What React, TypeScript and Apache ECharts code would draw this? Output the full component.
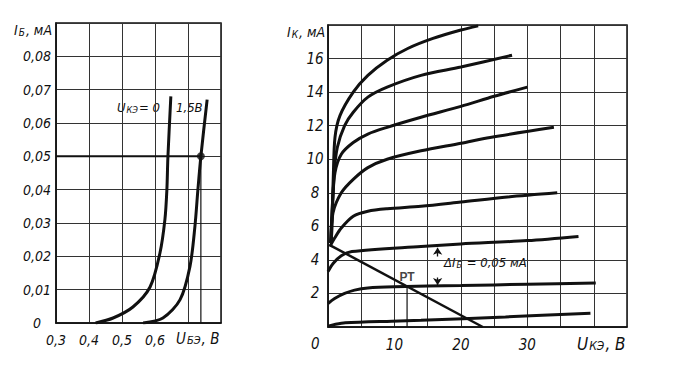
import React, { useEffect, useRef } from "react";
import * as echarts from "echarts";

// ---------- Input characteristics (left) ----------
const inU0_x = [0.42, 0.473, 0.533, 0.585, 0.615, 0.63, 0.636, 0.639, 0.648];
const inU0_y = [0, 0.0015, 0.0048, 0.0108, 0.021, 0.031, 0.04, 0.0495, 0.068];
const inU15_x = [0.564, 0.624, 0.676, 0.706, 0.721, 0.73, 0.739, 0.758];
const inU15_y = [0, 0.0015, 0.007, 0.017, 0.029, 0.04, 0.05, 0.067];
const inPoint = [0.739, 0.05];
const inXTicks = [0.3, 0.4, 0.5, 0.6];

// ---------- Output characteristics (right) ----------
const c0_x = [0, 1, 2.6, 9.6, 14, 26.7, 39.5];
const c0_y = [0.05, 0.15, 0.25, 0.35, 0.4, 0.6, 0.82];
const c1_x = [0, 1, 2.5, 4, 6, 10, 20, 30, 40.3];
const c1_y = [1.4, 1.7, 2.0, 2.2, 2.33, 2.4, 2.47, 2.55, 2.62];
const c2_x = [0, 0.8, 2, 3.6, 14, 20, 30, 37.7];
const c2_y = [3.3, 3.8, 4.25, 4.5, 4.8, 4.95, 5.15, 5.4];
const c3_x = [0.3, 1, 2, 3.8, 6, 8.9, 14, 20, 27, 34.5];
const c3_y = [4.8, 5.3, 5.9, 6.6, 6.9, 7.05, 7.2, 7.45, 7.75, 8.0];
const c4_x = [0.4, 0.75, 2, 3.8, 6, 8.9, 14, 20, 24.4, 34];
const c4_y = [5.0, 6.8, 8.0, 8.8, 9.5, 10.0, 10.5, 10.95, 11.3, 11.9];
const c5_x = [0.4, 0.7, 1.05, 2, 3.8, 6, 8.9, 14, 20, 25, 30];
const c5_y = [5.0, 7.5, 9.2, 10.3, 11.0, 11.5, 11.9, 12.5, 13.15, 13.75, 14.3];
const c6_x = [0.5, 0.9, 1.4, 2.5, 3.8, 6, 8.9, 14, 20, 27.7];
const c6_y = [5.0, 9.0, 10.7, 12.0, 12.8, 13.7, 14.3, 15.0, 15.5, 16.2];
const c7_x = [0.5, 0.8, 1.05, 1.8, 3.8, 6, 8.9, 12, 15.8, 20, 22.6];
const c7_y = [5.0, 9.0, 11.3, 12.6, 14.0, 15.0, 15.9, 16.6, 17.2, 17.7, 17.95];
const loadLine_x = [0.2, 23.3];
const loadLine_y = [4.9, 0];
const opPoint = [11.9, 2.4];
const deltaArrowU = 16.5;
const deltaArrowTop = [4.2, 4.72];
const deltaArrowBottom = [2.95, 2.5];
const outXTickLabels = [10, 20, 30];
const outYTickLabels = [2, 4, 6, 8, 10, 12, 14, 16];

const zip = (xs: number[], ys: number[]) => xs.map((x, i) => [x, ys[i]]);

const FONT = "'Liberation Sans Narrow', 'DejaVu Sans Condensed', 'DejaVu Sans', sans-serif";
const INK = "#111";

function curve(xs: number[], ys: number[], gi: number, w = 3) {
  return {
    type: "line",
    xAxisIndex: gi,
    yAxisIndex: gi,
    data: zip(xs, ys),
    smooth: 0.3,
    showSymbol: false,
    symbol: "none",
    lineStyle: { color: INK, width: w },
    silent: true,
    z: 5,
  };
}

function richLabel(main: string, sub: string, tail: string, size: number) {
  return {
    text: `{a|${main}}{s|${sub}}{a|${tail}}`,
    rich: {
      a: { fontFamily: FONT, fontStyle: "italic", fontSize: size, fill: INK, lineHeight: size + 4, verticalAlign: "bottom" },
      s: { fontFamily: FONT, fontStyle: "italic", fontSize: Math.round(size * 0.7), fill: INK, lineHeight: size + 4, verticalAlign: "bottom", padding: [0, 1, 0, 1] },
    },
  };
}

export default function App() {
  const ref = useRef<HTMLDivElement>(null);
  useEffect(() => {
    if (!ref.current) return;
    const chart = echarts.init(ref.current, undefined, { renderer: "svg" });
    const axisCommon = {
      type: "value",
      axisLine: { show: true, lineStyle: { color: INK, width: 1.5 } },
      axisTick: { show: false },
      splitLine: { show: true, lineStyle: { color: "#333", width: 1 } },
    };
    const option: any = {
      animation: false,
      backgroundColor: "#fff",
      grid: [
        { left: 56, top: 23, width: 165, height: 300, show: true, borderColor: INK, borderWidth: 1.5 },
        { left: 328, top: 25, width: 299, height: 302, show: true, borderColor: INK, borderWidth: 1.5 },
      ],
      xAxis: [
        {
          ...axisCommon,
          gridIndex: 0,
          min: 0.3,
          max: 0.8,
          interval: 0.1,
          axisLabel: {
            margin: 10,
            fontFamily: FONT,
            fontStyle: "italic",
            fontSize: 14,
            color: INK,
            formatter: (v: number) => {
              const r = Math.round(v * 10) / 10;
              return inXTicks.includes(r) ? r.toFixed(1).replace(".", ",") : "";
            },
          },
        },
        {
          ...axisCommon,
          gridIndex: 1,
          min: 0,
          max: 45,
          interval: 5,
          axisLabel: {
            margin: 10,
            fontFamily: FONT,
            fontStyle: "italic",
            fontSize: 15,
            color: INK,
            formatter: (v: number) => (outXTickLabels.includes(Math.round(v)) ? String(Math.round(v)) : ""),
          },
        },
      ],
      yAxis: [
        {
          ...axisCommon,
          gridIndex: 0,
          min: 0,
          max: 0.09,
          interval: 0.01,
          axisLabel: {
            margin: 19,
            align: "center",
            fontFamily: FONT,
            fontStyle: "italic",
            fontSize: 14,
            color: INK,
            formatter: (v: number) => {
              const r = Math.round(v * 100) / 100;
              if (r === 0) return "0";
              if (r > 0.085) return "";
              return r.toFixed(2).replace(".", ",");
            },
          },
        },
        {
          ...axisCommon,
          gridIndex: 1,
          min: 0,
          max: 18,
          interval: 2,
          axisLabel: {
            margin: 13,
            align: "center",
            fontFamily: FONT,
            fontStyle: "italic",
            fontSize: 15,
            color: INK,
            formatter: (v: number) => (outYTickLabels.includes(Math.round(v)) ? String(Math.round(v)) : ""),
          },
        },
      ],
      series: [
        curve(inU0_x, inU0_y, 0),
        curve(inU15_x, inU15_y, 0),
        {
          type: "line",
          xAxisIndex: 0,
          yAxisIndex: 0,
          data: [[0.3, inPoint[1]], inPoint],
          showSymbol: false,
          symbol: "none",
          lineStyle: { color: INK, width: 2 },
        },
        {
          type: "line",
          xAxisIndex: 0,
          yAxisIndex: 0,
          data: [inPoint, [inPoint[0], 0]],
          showSymbol: false,
          symbol: "none",
          lineStyle: { color: INK, width: 1.2 },
        },
        {
          type: "scatter",
          xAxisIndex: 0,
          yAxisIndex: 0,
          data: [inPoint],
          symbolSize: 8,
          itemStyle: { color: INK },
          z: 6,
        },
        curve(c0_x, c0_y, 1),
        curve(c1_x, c1_y, 1),
        curve(c2_x, c2_y, 1),
        curve(c3_x, c3_y, 1),
        curve(c4_x, c4_y, 1),
        curve(c5_x, c5_y, 1),
        curve(c6_x, c6_y, 1),
        curve(c7_x, c7_y, 1),
        {
          type: "line",
          xAxisIndex: 1,
          yAxisIndex: 1,
          data: zip(loadLine_x, loadLine_y),
          showSymbol: false,
          symbol: "none",
          lineStyle: { color: INK, width: 2.5 },
          z: 6,
        },
        {
          type: "line",
          xAxisIndex: 1,
          yAxisIndex: 1,
          data: [opPoint, [opPoint[0], 0]],
          showSymbol: false,
          symbol: "none",
          lineStyle: { color: INK, width: 1.2 },
        },
        {
          type: "scatter",
          xAxisIndex: 1,
          yAxisIndex: 1,
          data: [opPoint],
          symbolSize: 1,
          itemStyle: { color: "transparent" },
          label: {
            show: true,
            position: "top",
            distance: 3,
            formatter: "РТ",
            fontFamily: "'Liberation Sans', Arial, sans-serif",
            fontWeight: "bold",
            fontSize: 12,
            color: INK,
          },
        },
        {
          type: "lines",
          coordinateSystem: "cartesian2d",
          xAxisIndex: 1,
          yAxisIndex: 1,
          symbol: ["none", "arrow"],
          symbolSize: 7,
          lineStyle: { color: INK, width: 1.3, opacity: 1 },
          data: [
            { coords: [[deltaArrowU, deltaArrowTop[0]], [deltaArrowU, deltaArrowTop[1]]] },
            { coords: [[deltaArrowU, deltaArrowBottom[0]], [deltaArrowU, deltaArrowBottom[1]]] },
          ],
        },
      ],
      graphic: [
        { type: "text", left: 14, top: 23, style: richLabel("I", "Б", ", мА", 14) },
        { type: "text", left: 176, top: 331, style: richLabel("U", "БЭ", ", В", 15) },
        { type: "text", left: 117, top: 101, style: richLabel("U", "КЭ", "= 0", 13) },
        { type: "text", left: 176, top: 101, style: { text: "1,5В", fontFamily: FONT, fontStyle: "italic", fontSize: 13, fill: INK } },
        { type: "text", left: 287, top: 25, style: richLabel("I", "К", ", мА", 14) },
        { type: "text", left: 311, top: 336, style: { text: "0", fontFamily: FONT, fontStyle: "italic", fontSize: 15, fill: INK } },
        { type: "text", left: 577, top: 335, style: richLabel("U", "КЭ", ", В", 17) },
        { type: "text", left: 444, top: 256, style: richLabel("ΔI", "Б", " = 0,05 мА", 13) },
      ],
    };
    chart.setOption(option);
    return () => chart.dispose();
  }, []);
  return (
    <div
      ref={ref}
      style={{ position: "fixed", left: 0, top: 0, width: 680, height: 376, background: "#fff" }}
    />
  );
}
